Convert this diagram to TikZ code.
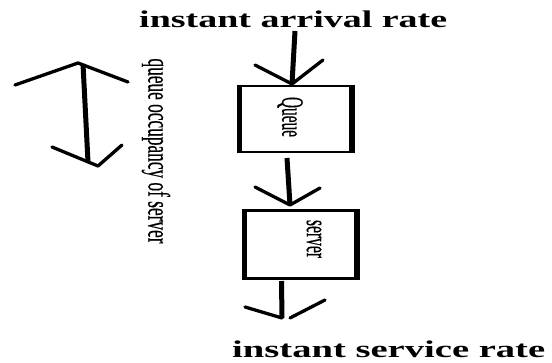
\documentclass[tikz,border=0pt]{standalone}
\usepackage{fontspec}
\usepackage{graphicx}
\setmainfont{Liberation Serif}
\newfontfamily\vfont[FakeBold=0.5]{Liberation Serif}
\begin{document}
\begin{tikzpicture}[x=1pt,y=-1pt,
  bigtext/.style={inner sep=0pt,anchor=base west,font=\fontsize{24}{24}\selectfont\bfseries},
  vtext/.style={inner sep=0pt,rotate=-90,font=\vfont\fontsize{31}{31}\selectfont},
  boxnode/.style={draw,line width=2.5pt,inner sep=0pt},
  shaft/.style={line width=5pt},
  wing/.style={line width=3.3pt,line cap=round,line join=round}]
\useasboundingbox (0,0) rectangle (552,363);
% texts
\node[bigtext] (arr) at (139,28) {\resizebox{308pt}{\height}{instant arrival rate}};
\node[bigtext] (srv) at (232,358) {\resizebox{313pt}{\height}{instant service rate}};
\node[vtext] (occ) at (156,151) {\resizebox{185pt}{\height}{queue occupancy of server}};
% boxes
\node[boxnode,minimum width=110pt,minimum height=66pt] (q) at (295.5,119) {};
\node[boxnode,minimum width=110pt,minimum height=68pt] (s) at (300.5,244.5) {};
\draw[line width=5.5pt] (q.north west) -- (q.south west) (q.north east) -- (q.south east);
\draw[line width=5.5pt] (s.north west) -- (s.south west) (s.north east) -- (s.south east);
\node[vtext] (qt) at (290,117) {\resizebox{40pt}{\height}{Queue}};
\node[vtext] (st) at (314,239) {\resizebox{38pt}{\height}{server}};
% arrow 1
\coordinate (s1) at (295,31);
\coordinate (t1) at (292,84);
\coordinate (w1a) at (255,65);
\coordinate (w1b) at (323,60);
\draw[shaft] (s1) -- (t1);
\draw[wing] (w1a) -- (t1) -- (w1b);
% arrow 2
\coordinate (s2) at (287,158);
\coordinate (t2) at (290,205);
\coordinate (w2a) at (255,187);
\coordinate (w2b) at (320,188);
\draw[shaft] (s2) -- (t2);
\draw[wing] (w2a) -- (t2) -- (w2b);
% arrow 3
\coordinate (s3) at (281.5,281);
\coordinate (t3) at (282,318);
\coordinate (w3a) at (245,307);
\coordinate (w3b) at (290,318);
\coordinate (w3c) at (325,300);
\draw[shaft] (s3) -- (t3);
\draw[wing] (w3a) -- (t3);
\draw[wing] (w3b) -- (w3c);
% left double arrow
\coordinate (la) at (83,64);
\coordinate (lb) at (88,162);
\coordinate (l1) at (15,85);
\coordinate (l2) at (78,63);
\coordinate (l3) at (128,82);
\coordinate (l4) at (52,147);
\coordinate (l5) at (98,166);
\coordinate (l6) at (122,145);
\draw[shaft] (la) -- (lb);
\draw[wing] (l1) -- (l2) -- (l3);
\draw[wing] (l4) -- (l5) -- (l6);
\end{tikzpicture}
\end{document}
